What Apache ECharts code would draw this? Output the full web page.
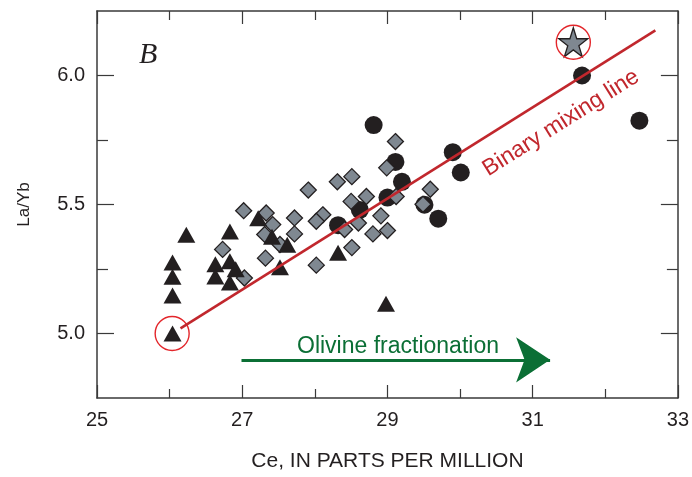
<!DOCTYPE html>
<html>
<head>
<meta charset="utf-8">
<script src="https://cdn.jsdelivr.net/npm/echarts@6/dist/echarts.min.js"></script>
<style>
html,body{margin:0;padding:0;background:#fff;}
#chart{width:692px;height:477px;}
</style>
</head>
<body>
<div id="chart"></div>
<script>
// ---- data (Ce ppm, La/Yb) ----
const triangleCe = [26.04, 26.04, 26.04, 26.04, 26.23, 26.63, 26.63, 26.83, 26.83, 26.83, 26.91, 27.22, 27.41, 27.62, 27.52, 28.32, 28.98];
const triangleLaYb = [5.00, 5.275, 5.22, 5.147, 5.383, 5.268, 5.221, 5.395, 5.28, 5.198, 5.249, 5.447, 5.375, 5.344, 5.257, 5.313, 5.115];

const circleCe = [28.81, 29.11, 29.20, 29.00, 28.62, 28.32, 29.90, 30.01, 29.51, 29.70, 31.68, 32.47];
const circleLaYb = [5.808, 5.665, 5.588, 5.527, 5.479, 5.420, 5.703, 5.624, 5.499, 5.445, 6.000, 5.825];

const diamondCe = [29.11, 28.99, 28.51, 28.31, 27.91, 29.59, 28.50, 28.71, 29.12, 29.49, 27.72, 28.11, 28.02, 28.91, 28.60, 27.72, 28.41, 28.80, 29.00, 28.51, 28.02, 26.73, 27.03, 27.02, 27.33, 27.42, 27.31, 27.52, 27.32];
const diamondLaYb = [5.744, 5.642, 5.608, 5.588, 5.556, 5.559, 5.512, 5.531, 5.531, 5.501, 5.448, 5.460, 5.435, 5.456, 5.428, 5.386, 5.403, 5.386, 5.399, 5.333, 5.265, 5.326, 5.215, 5.476, 5.467, 5.422, 5.384, 5.345, 5.292];

const starCe = [31.56];
const starLaYb = [6.129];

const ringCe = [26.035, 31.56];
const ringLaYb = [5.0, 6.129];

const mixLineCe = [26.15, 32.69];
const mixLineLaYb = [5.02, 6.175];

const arrowCe = [26.99, 31.24];
const arrowLaYb = [4.898, 4.898];

const xTickLabels = [25, 27, 29, 31, 33];
const yMajorTicks = [5.0, 5.5, 6.0];
const yMinorTicks = [5.25, 5.75];

// ---- helpers ----
const zip = (a, b) => a.map((v, i) => [v, b[i]]);
const INK = '#231f20';
const AXIS = '#3a3a3a';
const FONT = '"Liberation Sans", Arial, sans-serif';

const baseX = {
  type: 'value', min: 25, max: 33, interval: 2,
  splitLine: {show: false},
  axisLine: {show: true, onZero: false, lineStyle: {color: AXIS, width: 1.5}},
  axisTick: {show: true, inside: true, length: 13, lineStyle: {color: AXIS, width: 1.2}},
  minorTick: {show: true, splitNumber: 2, length: 9, lineStyle: {color: AXIS, width: 1.2}},
  minorSplitLine: {show: false}
};
const baseY = {
  type: 'value', min: 4.75, max: 6.25, interval: 0.25,
  splitLine: {show: false},
  axisLine: {show: false, onZero: false, lineStyle: {color: AXIS, width: 1.5}},
  axisLabel: {show: false}
};

const chart = echarts.init(document.getElementById('chart'), null, {renderer: 'canvas'});
const starPath = 'path://M50,0 L61.2,34.5 L97.6,34.5 L68.2,55.9 L79.4,90.5 L50,69.1 L20.6,90.5 L31.8,55.9 L2.4,34.5 L38.8,34.5 Z';

chart.setOption({
  animation: false,
  backgroundColor: '#ffffff',
  grid: {left: 97, right: 13, top: 11, bottom: 75, containLabel: false},
  xAxis: [
    Object.assign({}, baseX, {
      position: 'bottom',
      axisLabel: {show: true, margin: 12, fontSize: 20, color: INK, fontFamily: FONT,
        formatter: v => xTickLabels.indexOf(v) >= 0 ? String(v) : ''},
      name: 'Ce, IN PARTS PER MILLION', nameLocation: 'middle', nameGap: 53,
      nameTextStyle: {fontSize: 21, color: INK, fontFamily: FONT}
    }),
    Object.assign({}, baseX, {position: 'top', axisLabel: {show: false}})
  ],
  yAxis: [
    Object.assign({}, baseY, {
      position: 'left',
      axisLine: {show: true, onZero: false, lineStyle: {color: AXIS, width: 1.5}},
      axisTick: {show: true, inside: true, length: 17, customValues: yMajorTicks, lineStyle: {color: AXIS, width: 1.2}},
      axisLabel: {show: true, margin: 12, fontSize: 20, color: INK, fontFamily: FONT,
        customValues: yMajorTicks, formatter: v => v.toFixed(1)},
      name: 'La/Yb', nameLocation: 'middle', nameGap: 64,
      nameTextStyle: {fontSize: 17, color: INK, fontFamily: FONT}
    }),
    Object.assign({}, baseY, {
      position: 'left',
      axisTick: {show: true, inside: true, length: 11, customValues: yMinorTicks, lineStyle: {color: AXIS, width: 1.2}}
    }),
    Object.assign({}, baseY, {
      position: 'right',
      axisLine: {show: true, onZero: false, lineStyle: {color: AXIS, width: 1.5}},
      axisTick: {show: true, inside: true, length: 17, customValues: yMajorTicks, lineStyle: {color: AXIS, width: 1.2}}
    }),
    Object.assign({}, baseY, {
      position: 'right',
      axisTick: {show: true, inside: true, length: 11, customValues: yMinorTicks, lineStyle: {color: AXIS, width: 1.2}}
    })
  ],
  series: [
    {
      type: 'scatter', name: 'circles', data: zip(circleCe, circleLaYb),
      symbol: 'circle', symbolSize: 18, silent: true, z: 2,
      itemStyle: {color: INK, opacity: 1}
    },
    {
      type: 'scatter', name: 'diamonds', data: zip(diamondCe, diamondLaYb),
      symbol: 'diamond', symbolSize: 16, silent: true, z: 3,
      itemStyle: {color: '#7f8891', borderColor: INK, borderWidth: 1.3, opacity: 1}
    },
    {
      type: 'scatter', name: 'triangles', data: zip(triangleCe, triangleLaYb),
      symbol: 'triangle', symbolSize: [18, 16], silent: true, z: 4,
      itemStyle: {color: INK, opacity: 1}
    },
    {
      type: 'scatter', name: 'star', data: zip(starCe, starLaYb),
      symbol: starPath, symbolSize: 29, silent: true, z: 4,
      itemStyle: {color: '#7f8891', borderColor: INK, borderWidth: 1.3, opacity: 1}
    },
    {
      type: 'scatter', name: 'rings', data: zip(ringCe, ringLaYb),
      symbol: 'circle', symbolSize: 34, silent: true, z: 5,
      itemStyle: {color: 'rgba(0,0,0,0)', borderColor: '#e3262b', borderWidth: 1.4, opacity: 1}
    },
    {
      type: 'line', name: 'mixing', data: zip(mixLineCe, mixLineLaYb),
      symbol: 'none', silent: true, z: 6,
      lineStyle: {color: '#c1272d', width: 2.6}
    },
    {
      type: 'lines', coordinateSystem: 'cartesian2d', silent: true, z: 6,
      symbol: ['none', 'arrow'], symbolSize: [28, 34],
      lineStyle: {color: '#0b6f35', width: 3, opacity: 1},
      itemStyle: {color: '#0b6f35'},
      data: [{coords: zip(arrowCe, arrowLaYb)}]
    }
  ],
  graphic: [
    {
      type: 'text', x: 139, y: 55, silent: true,
      style: {text: 'B', fontSize: 30, fontStyle: 'italic', fontFamily: '"Liberation Serif", "Times New Roman", serif',
        fill: INK, textAlign: 'left', textVerticalAlign: 'middle'}
    },
    {
      type: 'text', x: 398, y: 347, silent: true,
      style: {text: 'Olivine fractionation', fontSize: 23, fontFamily: FONT,
        fill: '#0b6f35', textAlign: 'center', textVerticalAlign: 'middle'}
    },
    {
      type: 'text', x: 561, y: 123, rotation: 0.564, silent: true,
      style: {text: 'Binary mixing line', fontSize: 23, fontFamily: FONT,
        fill: '#c1272d', textAlign: 'center', textVerticalAlign: 'middle'}
    }
  ]
});
</script>
</body>
</html>
